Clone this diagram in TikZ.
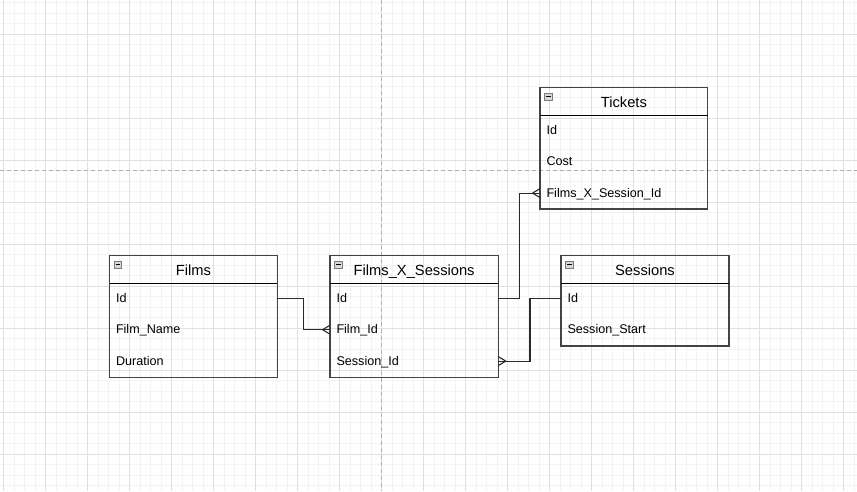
\documentclass[tikz,border=0pt]{standalone}
\usepackage{fontspec}
\setmainfont{Liberation Sans}
\definecolor{gridminor}{HTML}{F3F3F3}
\definecolor{gridmajor}{HTML}{E0E0E0}
\definecolor{pagebrk}{HTML}{B0B0B0}
\definecolor{boxline}{HTML}{444444}
\definecolor{connline}{HTML}{2A2A2A}
\definecolor{iconfill}{HTML}{D8D8D8}
\definecolor{iconline}{HTML}{7A7A7A}
\tikzset{
  gminor/.style={draw=gridminor, line width=1pt},
  gmajor/.style={draw=gridmajor, line width=1pt},
  pagebreak/.style={draw=pagebrk, line width=1pt, dash pattern=on 4pt off 3pt},
  tblbox/.style={draw=boxline, line width=1.3pt, rectangle, inner sep=0pt, outer sep=0pt},
  hdrline/.style={draw=black, line width=1pt},
  titletxt/.style={font=\fontsize{14.7}{17}\selectfont, inner sep=0pt, text=black},
  rowtxt/.style={font=\fontsize{12.6}{15}\selectfont, inner sep=0pt, text=black},
  erIcon/.style={draw=iconline, fill=iconfill, line width=0.8pt, rectangle, minimum width=7.5pt, minimum height=7.5pt, inner sep=0pt, outer sep=0pt},
  conn/.style={draw=connline, line width=1.1pt},
  crowL/.pic={\draw[conn] (-7.5,0) -- (0,4.5) (-7.5,0) -- (0,-4.5);},
  crowR/.pic={\draw[conn] (7.5,0) -- (0,4.5) (7.5,0) -- (0,-4.5);},
}
\newcommand\erTable[6]{%
  \node[tblbox, minimum width=#4pt, minimum height=#5pt, anchor=north west] (#1) at (#2,#3) {};
  \draw[hdrline] ([yshift=-27.6pt]#1.north west) -- ([yshift=-27.6pt]#1.north east);
  \node[titletxt, anchor=base] (#1-title) at ([yshift=-19.3pt]#1.north) {#6};
  \node[erIcon] (#1-icon) at ([xshift=8.5pt,yshift=-9pt]#1.north west) {};
  \draw[line width=1pt] ([xshift=-2.3pt]#1-icon.center) -- ([xshift=2.3pt]#1-icon.center);
}
\newcommand\erRow[3]{%
  \pgfmathsetmacro\erRb{46.6+31.4*(#2-1)}%
  \pgfmathsetmacro\erRc{42.6+31.4*(#2-1)}%
  \node[rowtxt, anchor=base west] (#1-r#2) at ([xshift=6.3pt,yshift=-\erRb pt]#1.north west) {#3};
  \coordinate (#1-r#2-l) at ([yshift=-\erRc pt]#1.north west);
  \coordinate (#1-r#2-r) at ([yshift=-\erRc pt]#1.north east);
}
\begin{document}
\begin{tikzpicture}[x=1pt, y=-1pt]
  \useasboundingbox (0,0) rectangle (857,491);
  \fill[white] (0,0) rectangle (857,491);
  \begin{scope}
    \clip (0,0) rectangle (857,491);
    \foreach \k in {0,...,81} \draw[gminor] ({3.7+10.5*\k},0) -- ({3.7+10.5*\k},491);
    \foreach \k in {0,...,46} \draw[gminor] (0,{2.5+10.5*\k}) -- (857,{2.5+10.5*\k});
    \foreach \k in {0,...,20} \draw[gmajor] ({3.7+42*\k},0) -- ({3.7+42*\k},491);
    \foreach \k in {0,...,10} \draw[gmajor] (0,{34+42*\k}) -- (857,{34+42*\k});
    \draw[pagebreak] (381.7,0) -- (381.7,491);
    \draw[pagebreak] (0,170.3) -- (857,170.3);
  \end{scope}

  % Films
  \erTable{films}{109.5}{255.7}{167.8}{121.6}{Films}
  \erRow{films}{1}{Id}
  \erRow{films}{2}{Film\_Name}
  \erRow{films}{3}{Duration}

  % Films_X_Sessions
  \erTable{fxs}{330}{255.7}{168.3}{121.6}{Films\_X\_Sessions}
  \erRow{fxs}{1}{Id}
  \erRow{fxs}{2}{Film\_Id}
  \erRow{fxs}{3}{Session\_Id}

  % Tickets
  \erTable{tickets}{540}{87.7}{167.7}{121.3}{Tickets}
  \erRow{tickets}{1}{Id}
  \erRow{tickets}{2}{Cost}
  \erRow{tickets}{3}{Films\_X\_Session\_Id}

  % Sessions
  \erTable{sessions}{561}{255.7}{168}{90.3}{Sessions}
  \erRow{sessions}{1}{Id}
  \erRow{sessions}{2}{Session\_Start}

  % Connectors
  \draw[conn] (films-r1-r) -- ++(26,0) |- (fxs-r2-l);
  \pic at (fxs-r2-l) {crowL};
  \draw[conn] (fxs-r1-r) -- ++(21,0) |- (tickets-r3-l);
  \pic at (tickets-r3-l) {crowL};
  \draw[conn] (sessions-r1-l) -- ++(-31,0) |- (fxs-r3-r);
  \pic at (fxs-r3-r) {crowR};
\end{tikzpicture}
\end{document}
